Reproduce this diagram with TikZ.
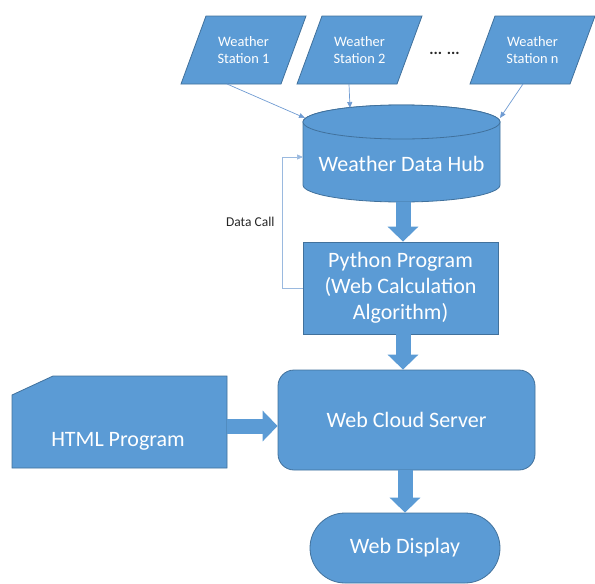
\documentclass[tikz,border=0pt]{standalone}
\usepackage{fontspec}
\setmainfont{Carlito}
\usetikzlibrary{arrows.meta,calc}
\definecolor{boxfill}{HTML}{5B9BD5}
\definecolor{boxline}{HTML}{41719C}
\definecolor{thinline}{HTML}{6F9BD2}
\begin{document}
\begin{tikzpicture}[x=1pt,y=-1pt,
  box/.style={draw=boxline, fill=boxfill, line width=0.8pt, text=white, align=center, inner sep=0pt,
    font=\fontsize{22}{26}\selectfont},
  shapebox/.style={draw=boxline, fill=boxfill, line width=0.8pt},
  stext/.style={text=white, align=center, inner sep=0pt, font=\fontsize{14.4}{17}\selectfont},
  fat/.style={draw=boxfill, line width=15pt, -{Triangle[width=30pt,length=15pt]}},
  thin/.style={draw=thinline, line width=0.7pt, -{Triangle[width=5pt,length=6pt]}},
  loopline/.style={draw=thinline!70, line width=0.7pt, -{Triangle[width=5pt,length=6pt]}}
]
\useasboundingbox (0,0) rectangle (595,584);

% weather stations (parallelograms)
\foreach \nm/\cx/\txt in {s1/243.5/Station 1, s2/359.5/Station 2, sn/532.5/Station n}{
  \path[shapebox] ($(\cx,50)+(-62.5,34)$) -- ++(100,0) -- ++(25,-68) -- ++(-100,0) -- cycle;
  \node[stext] (\nm) at (\cx,50) {Weather\\\txt};
}
\node[anchor=base, font=\fontsize{16}{16}\selectfont\bfseries, text=black!85] (dots) at (444.5,54) {... ...};

% weather data hub (cylinder)
\path[shapebox] (303,122) -- (303,185)
  arc[start angle=180, end angle=0, x radius=98.5, y radius=17] -- (500,122)
  arc[start angle=0, end angle=-180, x radius=98.5, y radius=17] -- cycle;
\draw[shapebox] (401.5,122) ellipse [x radius=98.5, y radius=17];
\node[text=white, font=\fontsize{22}{26}\selectfont] (hub) at (401.5,164) {Weather Data Hub};
\coordinate (hubB) at (403,202);
\coordinate (hubL) at (303,157);
\coordinate (in1) at (305,118);
\coordinate (in2) at (350,108);
\coordinate (inn) at (500,118);

% station connectors
\draw[thin] ($(s1)+(-16.5,34)$) -- (in1);
\draw[thin] ($(s2)+(-10.5,34)$) -- (in2);
\draw[thin] ($(sn)+(-9.5,34)$) -- (inn);

% python program
\node[box, minimum width=195, minimum height=92] (py) at (400.5,288)
  {Python Program\\(Web Calculation\\Algorithm)};

% web cloud server
\node[box, rounded corners=16, minimum width=257, minimum height=100] (cloud) at (406.5,420)
  {Web Cloud Server};

% web display
\node[box, rounded corners=35, minimum width=190, minimum height=70] (disp) at (405,548)
  {Web Display};

% html program
\path[shapebox] (12,395) -- (53,376) -- (227,376) -- (227,468) -- (12,468) -- cycle;
\node[text=white, font=\fontsize{22}{26}\selectfont] (html) at (118,441) {HTML Program};
\coordinate (htmlE) at (227,426);

% data call loop
\draw[loopline] (py.west) -- ++(-20,0) |- (hubL);
\node[anchor=east, font=\fontsize{13.5}{16}\selectfont, text=black!85] (dc) at (278,222) {Data Call};

% fat arrows
\draw[fat] (hubB) -- (hubB |- py.north);
\draw[fat] (hubB |- py.south) -- (hubB |- cloud.north);
\draw[fat] (htmlE) -- (cloud.west |- htmlE);
\draw[fat] (disp.north |- cloud.south) -- (disp.north);
\end{tikzpicture}
\end{document}
